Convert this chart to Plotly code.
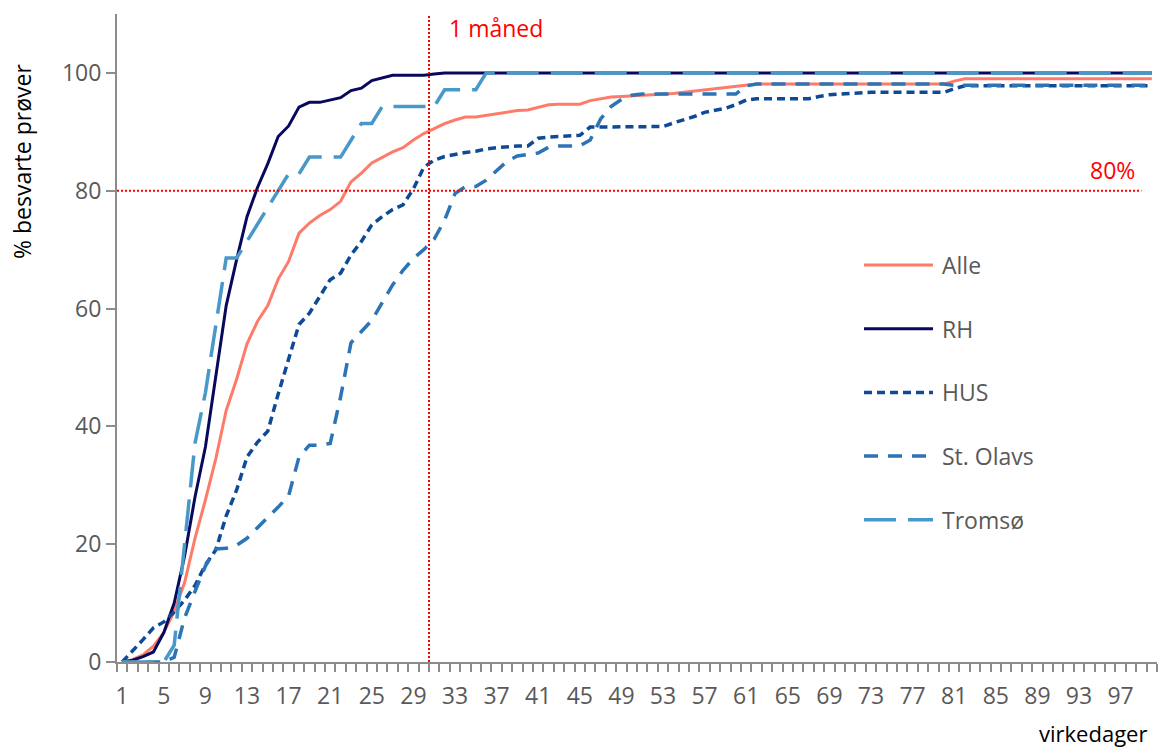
import plotly.graph_objects as go

# Working days after sampling
days = list(range(1, 101))

# Cumulative share of answered samples (%) per working day
alle = [0, 0.4, 1.2, 2.7, 5.0, 8.6, 13.5, 21.0, 27.5, 34.5,
        42.7, 48.0, 54.0, 57.8, 60.5, 65.0, 68.0, 72.8, 74.5, 75.8,
        76.8, 78.2, 81.5, 83.0, 84.7, 85.7, 86.6, 87.3, 88.6, 89.7,
        90.6, 91.4, 92.0, 92.5, 92.5, 92.8, 93.0, 93.3, 93.6, 93.7,
        94.2, 94.6, 94.7, 94.7, 94.7, 95.3, 95.6, 95.9, 96.0, 96.1,
        96.2, 96.2, 96.3, 96.5, 96.7, 96.9, 97.1, 97.3, 97.5, 97.7,
        97.9, 98.1, 98.1, 98.1, 98.1, 98.1, 98.1, 98.1, 98.1, 98.1,
        98.1, 98.1, 98.1, 98.1, 98.1, 98.1, 98.1, 98.1, 98.1, 98.1,
        98.6, 99.0, 99.0, 99.0, 99.0, 99.0, 99.0, 99.0, 99.0, 99.0,
        99.0, 99.0, 99.0, 99.0, 99.0, 99.0, 99.0, 99.0, 99.0, 99.0]

rh = [0, 0.3, 0.9, 1.7, 5.0, 10.0, 18.0, 28.0, 36.5, 48.5,
      60.5, 68.3, 75.6, 80.5, 84.6, 89.2, 91.0, 94.2, 95.0, 95.0,
      95.4, 95.8, 97.0, 97.4, 98.7, 99.2, 99.6, 99.6, 99.6, 99.6,
      99.8, 100, 100, 100, 100, 100, 100, 100, 100, 100,
      100, 100, 100, 100, 100, 100, 100, 100, 100, 100,
      100, 100, 100, 100, 100, 100, 100, 100, 100, 100,
      100, 100, 100, 100, 100, 100, 100, 100, 100, 100,
      100, 100, 100, 100, 100, 100, 100, 100, 100, 100,
      100, 100, 100, 100, 100, 100, 100, 100, 100, 100,
      100, 100, 100, 100, 100, 100, 100, 100, 100, 100]

hus = [0, 1.8, 3.8, 5.8, 6.8, 8.5, 10.5, 13.0, 16.5, 19.0,
       24.8, 29.2, 34.8, 37.3, 39.2, 45.5, 51.3, 57.3, 59.2, 62.0,
       64.9, 66.0, 69.1, 71.4, 74.2, 75.6, 76.8, 77.6, 80.3, 84.0,
       85.2, 85.8, 86.2, 86.5, 86.7, 87.1, 87.3, 87.5, 87.6, 87.6,
       88.9, 89.1, 89.2, 89.3, 89.4, 90.8, 90.8, 90.8, 90.8, 90.8,
       90.8, 90.8, 90.9, 91.5, 92.0, 92.6, 93.3, 93.6, 94.0, 94.6,
       95.4, 95.6, 95.6, 95.6, 95.6, 95.6, 95.6, 96.0, 96.3, 96.4,
       96.5, 96.7, 96.7, 96.7, 96.7, 96.7, 96.7, 96.7, 96.7, 96.7,
       97.3, 97.8, 97.8, 97.8, 97.8, 97.8, 97.8, 97.8, 97.8, 97.8,
       97.8, 97.8, 97.8, 97.8, 97.8, 97.8, 97.8, 97.8, 97.8, 97.8]

st_olavs = [0, 0, 0, 0, 0, 0.8, 7.5, 12.0, 16.3, 19.2,
            19.3, 19.8, 21.0, 22.8, 24.5, 26.3, 28.2, 34.8, 36.8, 36.8,
            37.1, 45.0, 54.2, 56.2, 58.0, 61.0, 64.0, 66.5, 68.5, 70.0,
            71.8, 75.0, 79.5, 80.7, 80.7, 81.8, 83.4, 85.0, 85.9, 86.1,
            86.4, 87.4, 87.6, 87.6, 87.6, 88.6, 92.2, 94.3, 95.5, 96.2,
            96.4, 96.4, 96.4, 96.4, 96.4, 96.4, 96.4, 96.4, 96.4, 96.4,
            97.8, 98.1, 98.1, 98.1, 98.1, 98.1, 98.1, 98.1, 98.1, 98.1,
            98.1, 98.1, 98.1, 98.1, 98.1, 98.1, 98.1, 98.1, 98.1, 98.1,
            97.9, 97.9, 97.9, 97.9, 97.9, 97.9, 97.9, 97.9, 97.9, 97.9,
            97.9, 97.9, 97.9, 97.9, 97.9, 97.9, 97.9, 97.9, 97.9, 97.9]

tromso = [0, 0, 0, 0, 0, 2.86, 20.0, 37.14, 45.71, 57.14,
          68.57, 68.57, 71.43, 74.29, 77.14, 80.0, 82.86, 82.86, 85.71, 85.71,
          85.71, 85.71, 88.57, 91.43, 91.43, 94.29, 94.29, 94.29, 94.29, 94.29,
          94.29, 97.14, 97.14, 97.14, 97.14, 100, 100, 100, 100, 100,
          100, 100, 100, 100, 100, 100, 100, 100, 100, 100,
          100, 100, 100, 100, 100, 100, 100, 100, 100, 100,
          100, 100, 100, 100, 100, 100, 100, 100, 100, 100,
          100, 100, 100, 100, 100, 100, 100, 100, 100, 100,
          100, 100, 100, 100, 100, 100, 100, 100, 100, 100,
          100, 100, 100, 100, 100, 100, 100, 100, 100, 100]

series_names = ["Alle", "RH", "HUS", "St. Olavs", "Tromsø"]
series_values = [alle, rh, hus, st_olavs, tromso]
series_colors = ["#FF7B69", "#08085C", "#0E4A96", "#2C74B5", "#4898CA"]
series_dash = ["solid", "solid", "8px,5px", "14px,10px", "32px,12px"]
series_width = [3, 3, 3.5, 3.5, 3.5]

x_tick_days = [1, 5, 9, 13, 17, 21, 25, 29, 33, 37, 41, 45, 49,
               53, 57, 61, 65, 69, 73, 77, 81, 85, 89, 93, 97]
y_tick_vals = [0, 20, 40, 60, 80, 100]

month_day = 30.5      # one month of working days
target_pct = 80       # target share answered

FONT = "Open Sans"
GREY_TXT = "#595959"
AXIS_GREY = "#8C8C8C"
RED = "#FF0000"

W, H = 1161, 749
ML, MR, MT, MB = 117, 4, 14, 87

fig = go.Figure()
for name, vals, col, dash, lw in zip(series_names, series_values, series_colors,
                                     series_dash, series_width):
    fig.add_trace(go.Scatter(
        x=days, y=vals, mode="lines", name=name,
        line=dict(color=col, width=lw, dash=dash),
        showlegend=False, hoverinfo="x+y+name",
    ))

# Reference lines: one month and 80 %
fig.add_shape(type="line", xref="x", yref="y", x0=month_day, x1=month_day, y0=0, y1=110,
              line=dict(color=RED, width=2, dash="2px,2px"), layer="above")
fig.add_shape(type="line", xref="x", yref="y", x0=0.5, x1=99, y0=target_pct, y1=target_pct,
              line=dict(color=RED, width=2, dash="2px,2px"), layer="above")

fig.add_annotation(x=month_day + 1.7, y=107.6, xref="x", yref="y", text="1 måned",
                   showarrow=False, xanchor="left", yanchor="middle",
                   font=dict(family=FONT, size=23, color=RED))
fig.add_annotation(x=98.55, y=target_pct + 3.5, xref="x", yref="y", text=f"{target_pct}%",
                   showarrow=False, xanchor="right", yanchor="middle",
                   font=dict(family=FONT, size=23, color=RED))

# Legend drawn as line samples and labels
def px_x(px):
    return (px - ML) / (W - ML - MR)

def px_y(py):
    return (H - MB - py) / (H - MT - MB)

leg_y0 = 265
leg_step = 63.7
for i, (name, col, dash, lw) in enumerate(zip(series_names, series_colors,
                                              series_dash, series_width)):
    yy = px_y(leg_y0 + i * leg_step)
    fig.add_shape(type="line", xref="paper", yref="paper",
                  x0=px_x(864), x1=px_x(933), y0=yy, y1=yy,
                  line=dict(color=col, width=lw, dash=dash))
    fig.add_annotation(x=px_x(940), y=yy, xref="paper", yref="paper", text=name,
                       showarrow=False, xanchor="left", yanchor="middle",
                       font=dict(family=FONT, size=23, color=GREY_TXT))

# Axis titles
fig.add_annotation(x=px_x(1149), y=px_y(733), xref="paper", yref="paper", text="virkedager",
                   showarrow=False, xanchor="right", yanchor="middle",
                   font=dict(family=FONT, size=22, color="#000000"))
fig.add_annotation(x=px_x(22), y=px_y(162), xref="paper", yref="paper", text="% besvarte prøver",
                   showarrow=False, xanchor="center", yanchor="middle", textangle=-90,
                   font=dict(family=FONT, size=23, color="#000000"))

fig.update_xaxes(
    range=[0.5, 100.5], showgrid=False, zeroline=False,
    showline=True, linecolor=AXIS_GREY, linewidth=2,
    tickmode="array", tickvals=x_tick_days, ticktext=[str(d) for d in x_tick_days],
    ticks="", ticklabelstandoff=12,
    tickfont=dict(family=FONT, size=23, color=GREY_TXT),
    minor=dict(tick0=0.5, dtick=1, ticks="outside", ticklen=8, tickwidth=2,
               tickcolor=AXIS_GREY, showgrid=False),
)
fig.update_yaxes(
    range=[0, 110], showgrid=False, zeroline=False,
    showline=True, linecolor=AXIS_GREY, linewidth=2,
    tickmode="array", tickvals=y_tick_vals,
    ticks="outside", ticklen=9, tickwidth=2, tickcolor=AXIS_GREY,
    tickfont=dict(family=FONT, size=23, color=GREY_TXT),
)

fig.update_layout(
    width=W, height=H,
    margin=dict(l=ML, r=MR, t=MT, b=MB),
    paper_bgcolor="white", plot_bgcolor="white",
    showlegend=False,
)

fig.write_html("out.html")
